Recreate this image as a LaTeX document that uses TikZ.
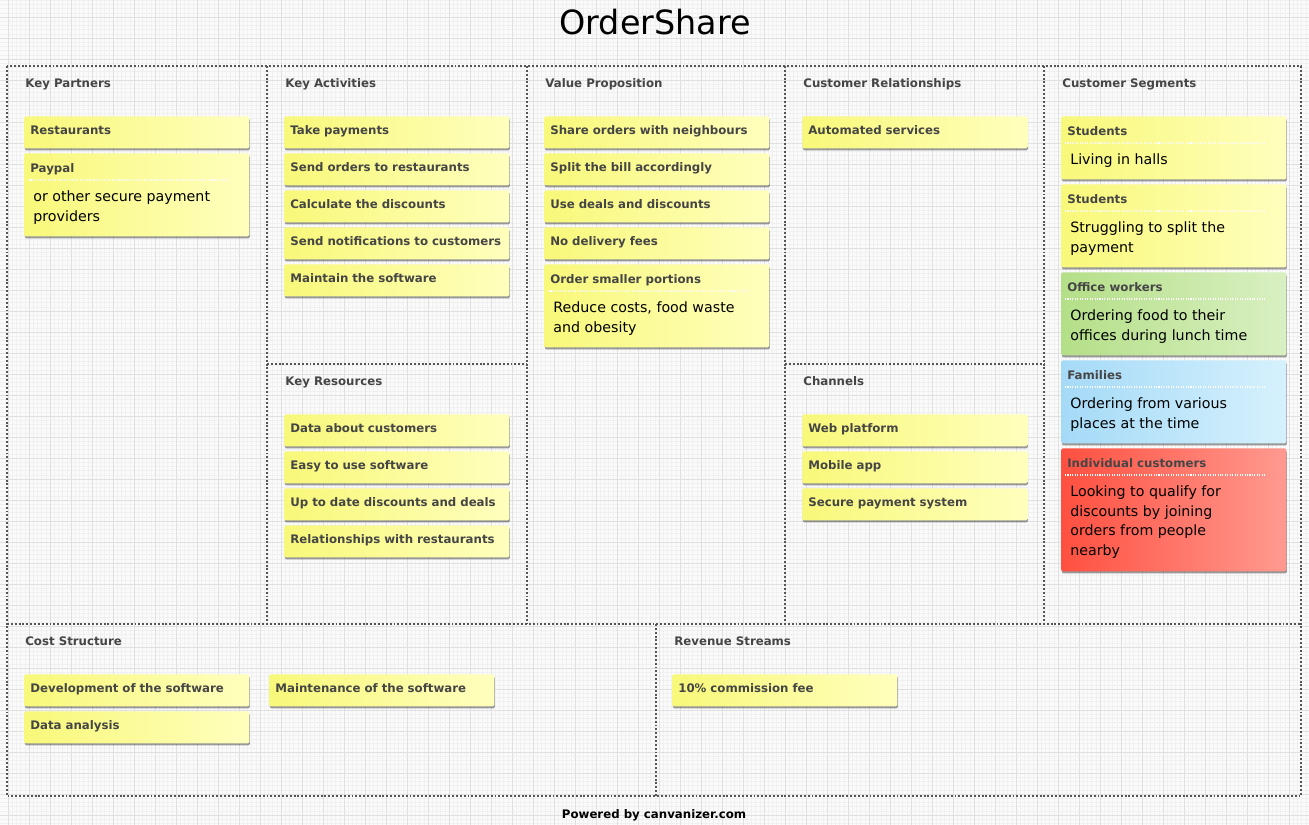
\documentclass[tikz,border=0pt]{standalone}
\usepackage{fontspec}
\setmainfont{DejaVu Sans}
\usetikzlibrary{shadows}
\definecolor{cvbg}{HTML}{FAFAFA}
\definecolor{cvmajor}{HTML}{E0E0E0}
\definecolor{cvminor}{HTML}{F0F0F0}
\definecolor{cvframe}{HTML}{555555}
\definecolor{cvtext}{HTML}{454545}
\definecolor{cvyellowA}{HTML}{F8F87A}
\definecolor{cvyellowB}{HTML}{FFFFBE}
\definecolor{cvgreenA}{HTML}{B4DF88}
\definecolor{cvgreenB}{HTML}{D9F0C2}
\definecolor{cvblueA}{HTML}{A5DAF7}
\definecolor{cvblueB}{HTML}{D6F1FD}
\definecolor{cvredA}{HTML}{FF5040}
\definecolor{cvredB}{HTML}{FF9A90}

\begin{document}
\begin{tikzpicture}[
  x=0.02cm, y=-0.02cm,
  every node/.style={font=\fontsize{6.7pt}{8pt}\selectfont\bfseries},
  majorgrid/.style={draw=cvmajor, line width=0.5pt},
  minorgrid/.style={draw=cvminor, line width=0.3pt},
  frame/.style={draw=cvframe, line width=1.1pt, dash pattern=on 1.1pt off 1.1pt},
  sectitle/.style={anchor=base west, inner sep=0pt, text=cvtext},
  note/.style={rectangle, anchor=north west, rounded corners=0.8pt, left color=#1A, right color=#1B,
    drop shadow={shadow xshift=0.3pt, shadow yshift=-1.2pt, fill=black, opacity=0.38},
    minimum width=4.5cm, minimum height=0.64cm, text width=4.26cm, inner xsep=0.12cm, inner ysep=0pt,
    align=left, text height=6pt, text depth=3pt, text=cvtext},
  notetitle/.style={anchor=base west, inner sep=0pt, text=cvtext},
  notebody/.style={anchor=north west, inner sep=0pt, align=left, text=black, font=\fontsize{8.1pt}{11.3pt}\selectfont},
  sepline/.style={draw=white, line width=0.6pt, dash pattern=on 0.6pt off 0.8pt},
]
\useasboundingbox (0,0) rectangle (1309,825);

% Background grid
\fill[cvbg] (0,0) rectangle (1309,825);
\foreach \gx in {8,12.2,...,1309} \draw[minorgrid] (\gx,0) -- (\gx,825);
\foreach \gy in {0.2,4.4,...,825} \draw[minorgrid] (0,\gy) -- (1309,\gy);
\foreach \gx in {8,29,...,1309} \draw[majorgrid] (\gx,0) -- (\gx,825);
\foreach \gy in {17,38,...,825} \draw[majorgrid] (0,\gy) -- (1309,\gy);

% Title
\node[font=\fontsize{19pt}{21pt}\selectfont, anchor=base, inner sep=0pt] (title) at (655,34) {OrderShare};

% Canvas frame
\draw[frame] (7,66) rectangle (1301,796);
\draw[frame] (7,624) -- (1301,624);
\draw[frame] (267,66) -- (267,624);
\draw[frame] (527,66) -- (527,624);
\draw[frame] (785,66) -- (785,624);
\draw[frame] (1044,66) -- (1044,624);
\draw[frame] (267,364) -- (527,364);
\draw[frame] (785,364) -- (1044,364);
\draw[frame] (656,624) -- (656,796);

% Key Partners
\node[sectitle] (kp) at (25,87) {Key Partners};
\node[note=cvyellow] (restaurants) at (24,116) {Restaurants};
\node[note=cvyellow, minimum height=1.66cm] (paypal) at (24,153) {};
\node[notetitle] (paypal_t) at (30,172) {Paypal};
\draw[sepline] (28,180) -- (228,180);
\node[notebody] (paypal_b) at (33,190) {or other secure payment\\providers};

% Key Activities
\node[sectitle] (ka) at (285,87) {Key Activities};
\node[note=cvyellow] (payments) at (284,116) {Take payments};
\node[note=cvyellow] (sendorders) at (284,153) {Send orders to restaurants};
\node[note=cvyellow] (discounts) at (284,190) {Calculate the discounts};
\node[note=cvyellow] (notify) at (284,227) {Send notifications to customers};
\node[note=cvyellow] (maintain) at (284,264) {Maintain the software};

% Key Resources
\node[sectitle] (kr) at (285,385) {Key Resources};
\node[note=cvyellow] (custdata) at (284,414) {Data about customers};
\node[note=cvyellow] (easysoft) at (284,451) {Easy to use software};
\node[note=cvyellow] (deals) at (284,488) {Up to date discounts and deals};
\node[note=cvyellow] (relations) at (284,525) {Relationships with restaurants};

% Value Proposition
\node[sectitle] (vp) at (545,87) {Value Proposition};
\node[note=cvyellow] (shareorders) at (544,116) {Share orders with neighbours};
\node[note=cvyellow] (splitbill) at (544,153) {Split the bill accordingly};
\node[note=cvyellow] (usedeals) at (544,190) {Use deals and discounts};
\node[note=cvyellow] (nofees) at (544,227) {No delivery fees};
\node[note=cvyellow, minimum height=1.66cm] (portions) at (544,264) {};
\node[notetitle] (portions_t) at (550,283) {Order smaller portions};
\draw[sepline] (548,291) -- (748,291);
\node[notebody] (portions_b) at (553,301) {Reduce costs, food waste\\and obesity};

% Customer Relationships
\node[sectitle] (cr) at (803,87) {Customer Relationships};
\node[note=cvyellow] (automated) at (802,116) {Automated services};

% Channels
\node[sectitle] (ch) at (803,385) {Channels};
\node[note=cvyellow] (web) at (802,414) {Web platform};
\node[note=cvyellow] (mobile) at (802,451) {Mobile app};
\node[note=cvyellow] (securepay) at (802,488) {Secure payment system};

% Customer Segments
\node[sectitle] (cs) at (1062,87) {Customer Segments};
\node[note=cvyellow, minimum width=4.46cm, minimum height=1.26cm] (halls) at (1061,116) {};
\node[notetitle] (halls_t) at (1067,135) {Students};
\draw[sepline] (1065,143) -- (1265,143);
\node[notebody] (halls_b) at (1070,153) {Living in halls};
\node[note=cvyellow, minimum width=4.46cm, minimum height=1.66cm] (struggle) at (1061,184) {};
\node[notetitle] (struggle_t) at (1067,203) {Students};
\draw[sepline] (1065,211) -- (1265,211);
\node[notebody] (struggle_b) at (1070,221) {Struggling to split the\\payment};
\node[note=cvgreen, minimum width=4.46cm, minimum height=1.66cm] (office) at (1061,272) {};
\node[notetitle] (office_t) at (1067,291) {Office workers};
\draw[sepline] (1065,299) -- (1265,299);
\node[notebody] (office_b) at (1070,309) {Ordering food to their\\offices during lunch time};
\node[note=cvblue, minimum width=4.46cm, minimum height=1.66cm] (families) at (1061,360) {};
\node[notetitle] (families_t) at (1067,379) {Families};
\draw[sepline] (1065,387) -- (1265,387);
\node[notebody] (families_b) at (1070,397) {Ordering from various\\places at the time};
\node[note=cvred, minimum width=4.46cm, minimum height=2.46cm] (individual) at (1061,448) {};
\node[notetitle] (individual_t) at (1067,467) {Individual customers};
\draw[sepline] (1065,475) -- (1265,475);
\node[notebody] (individual_b) at (1070,485) {Looking to qualify for\\discounts by joining\\orders from people\\nearby};

% Cost Structure
\node[sectitle] (cost) at (25,645) {Cost Structure};
\node[note=cvyellow, minimum width=4.46cm] (devsoft) at (24,674) {Development of the software};
\node[note=cvyellow, minimum width=4.46cm] (analysis) at (24,711) {Data analysis};
\node[note=cvyellow, minimum width=4.46cm] (maintsoft) at (269,674) {Maintenance of the software};

% Revenue Streams
\node[sectitle] (rev) at (674,645) {Revenue Streams};
\node[note=cvyellow] (commission) at (672,674) {10\% commission fee};

% Footer
\node[anchor=base, inner sep=0pt, text=black] (footer) at (654,818) {Powered by canvanizer.com};
\end{tikzpicture}
\end{document}
